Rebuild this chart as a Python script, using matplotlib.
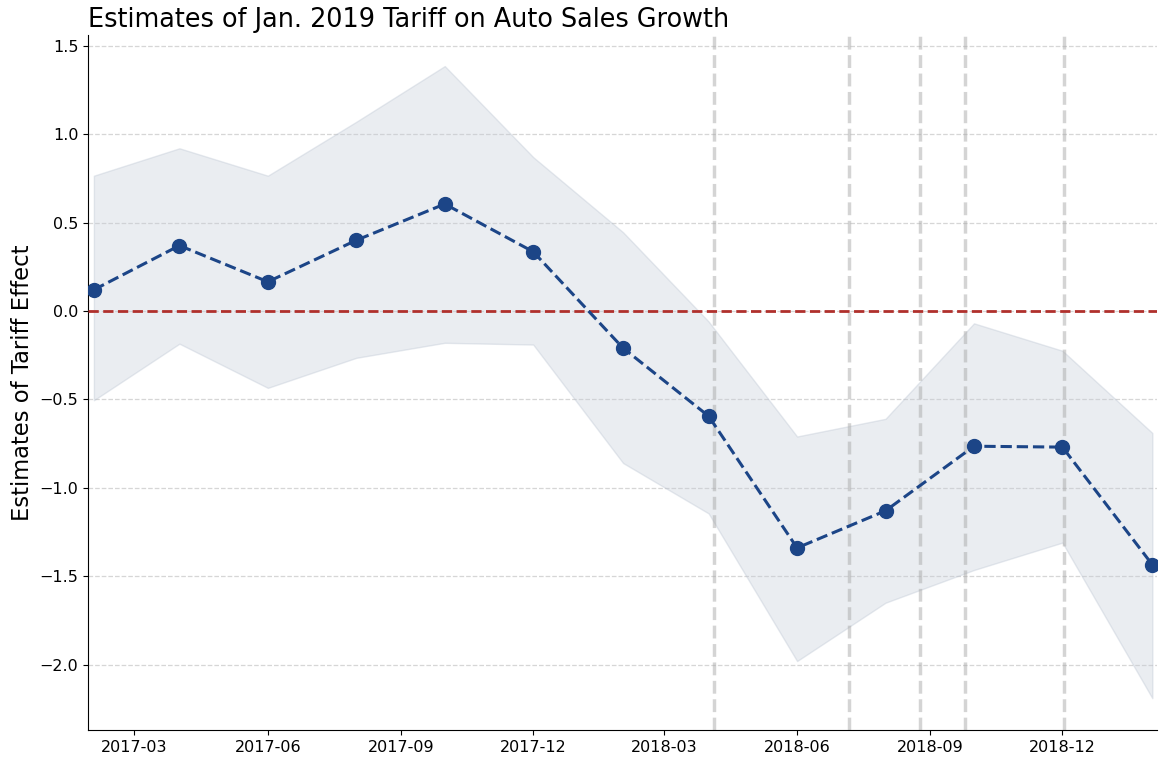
import matplotlib
matplotlib.use("Agg")
import matplotlib.pyplot as plt
import matplotlib.dates as mdates
import pandas as pd

months = ["2017-02-01", "2017-04-01", "2017-06-01", "2017-08-01", "2017-10-01",
          "2017-12-01", "2018-02-01", "2018-04-01", "2018-06-01", "2018-08-01",
          "2018-10-01", "2018-12-01", "2019-02-01"]
estimate = [0.12, 0.37, 0.165, 0.40, 0.605, 0.335, -0.21, -0.595, -1.34, -1.13,
            -0.765, -0.77, -1.435]
upper = [0.765, 0.92, 0.765, 1.07, 1.385, 0.87, 0.445, -0.06, -0.71, -0.61,
         -0.07, -0.225, -0.69]
lower = [-0.505, -0.185, -0.435, -0.265, -0.18, -0.19, -0.86, -1.145, -1.98,
         -1.65, -1.465, -1.31, -2.19]
events = ["2018-04-05", "2018-07-07", "2018-08-25", "2018-09-25", "2018-12-02"]

dates = pd.to_datetime(months)
ev = pd.to_datetime(events)

fig, ax = plt.subplots(figsize=(11.59, 7.64), dpi=100)
fig.subplots_adjust(left=0.076, right=0.998, top=0.954, bottom=0.0445)

ax.fill_between(dates, lower, upper, color="#c5cdd8", alpha=0.35,
                edgecolor="#b8c2d0", linewidth=1, zorder=1)
ax.axhline(0, color="#b0302c", linestyle="--", linewidth=2, zorder=3)
for d in ev:
    ax.axvline(d, color="#aaaaaa", linestyle="--", linewidth=2.5, alpha=0.5, zorder=2)
ax.plot(dates, estimate, color="#1c4587", linestyle="--", linewidth=2.2,
        marker="o", markersize=10, zorder=4)

ax.set_xlim(pd.Timestamp("2017-01-28"), pd.Timestamp("2019-02-04"))
ax.set_ylim(-2.37, 1.56)
ax.xaxis.set_major_locator(mdates.MonthLocator(bymonth=[3, 6, 9, 12]))
ax.xaxis.set_major_formatter(mdates.DateFormatter("%Y-%m"))
ax.yaxis.grid(True, linestyle="--", color="#cccccc", linewidth=0.9, alpha=0.8)
ax.set_axisbelow(True)
ax.spines["top"].set_visible(False)
ax.spines["right"].set_visible(False)
ax.tick_params(labelsize=11.5)

ax.set_title("Estimates of Jan. 2019 Tariff on Auto Sales Growth", loc="left", fontsize=18.4)
ax.set_ylabel("Estimates of Tariff Effect", fontsize=16.3)

fig.savefig("out.png", dpi=100)
